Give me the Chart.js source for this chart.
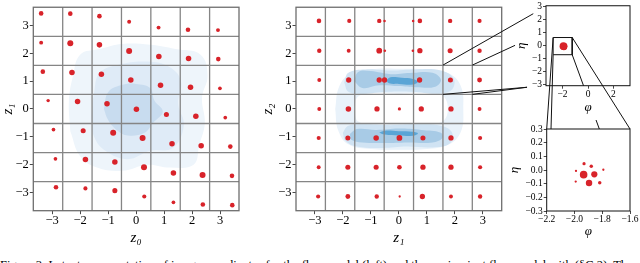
<!DOCTYPE html>
<html><head><meta charset="utf-8">
<script src="https://cdn.jsdelivr.net/npm/chart.js@4.4.0/dist/chart.umd.min.js"></script>
<style>
html,body{margin:0;padding:0;background:#fff;width:640px;height:263px;overflow:hidden;position:relative}
canvas{position:absolute}
#cap{position:absolute;left:0;top:259.3px;font-family:"Liberation Serif","DejaVu Serif",serif;font-size:12.5px;line-height:1;white-space:nowrap;color:#000;width:640px;overflow:hidden}
</style></head><body>
<canvas id="cA" width="245" height="250" style="left:0;top:0"></canvas>
<canvas id="cB" width="256" height="250" style="left:250px;top:0"></canvas>
<canvas id="cC" width="135" height="118" style="left:505px;top:0"></canvas>
<canvas id="cD" width="135" height="127" style="left:505px;top:118px"></canvas>
<canvas id="ov" width="640" height="263" style="left:0;top:0;z-index:10;pointer-events:none"></canvas>
<div id="cap">Figure 3: Latent representation of image coordinates for the flow model (left) and the equivariant flow model with (§C.2). The equivariant</div>
<script>
// ---------------- data ----------------
const latentTicks = [-3,-2,-1,0,1,2,3];
const latentXLim = [-3.67, 3.67];
const latentYLim = [-3.65, 3.65];
const cellEdgesX = [-2.621,-1.573,-0.524,0.524,1.573,2.621];
const cellEdgesY = [-2.607,-1.564,-0.521,0.521,1.564,2.607];

// left panel: (z0, z1) points, row by row
const leftZ0 = [
 -3.39,-2.35,-1.31,-0.25,0.80,1.85,2.92,
 -3.39,-2.35,-1.31,-0.25,0.81,1.87,2.93,
 -3.33,-2.29,-1.24,-0.19,0.87,1.94,2.99,
 -3.14,-2.09,-1.04,0.01,1.08,2.13,3.18,
 -2.95,-1.89,-0.82,0.23,1.28,2.32,3.36,
 -2.88,-1.81,-0.76,0.28,1.33,2.37,3.42,
 -2.86,-1.81,-0.76,0.29,1.33,2.38,3.43];
const leftZ1 = [
 3.43,3.42,3.33,3.13,2.92,2.84,2.83,
 2.38,2.36,2.30,2.08,1.88,1.81,1.79,
 1.34,1.31,1.25,1.04,0.85,0.78,0.74,
 0.30,0.27,0.19,-0.01,-0.20,-0.26,-0.31,
 -0.74,-0.78,-0.85,-1.04,-1.25,-1.32,-1.35,
 -1.79,-1.81,-1.90,-2.09,-2.30,-2.37,-2.40,
 -2.81,-2.85,-2.93,-3.14,-3.35,-3.43,-3.45];
const leftMass = [
 2.0,2.0,2.0,1.7,1.7,2.0,1.7,
 1.7,2.6,2.4,2.6,2.4,2.4,2.0,
 2.0,2.4,2.4,2.4,2.4,2.4,1.6,
 1.5,2.4,2.4,2.4,2.2,2.4,1.6,
 1.6,2.2,2.6,2.6,2.4,2.4,2.0,
 1.6,2.4,2.4,2.6,2.4,2.6,2.0,
 2.0,1.8,2.2,1.8,1.6,2.0,2.0];
// left panel density levels (outer -> inner)
const leftDensity1 = [[-2.35,-0.8],[-2.4,0.3],[-2.25,1.2],[-2.0,1.95],[-1.3,2.15],[-0.5,2.33],[0.5,2.3],[1.4,2.15],[2.3,1.95],[2.55,1.2],[2.35,0.4],[2.45,-0.5],[2.25,-1.3],[2.05,-2.0],[1.2,-2.1],[0.4,-2.0],[-0.5,-2.22],[-1.4,-2.1],[-2.0,-1.7]];
const leftDensity2 = [[-1.6,-0.3],[-1.5,0.6],[-1.3,1.3],[-0.6,1.6],[0.4,1.7],[1.2,1.5],[1.6,1.0],[1.5,0.2],[1.7,-0.6],[1.3,-1.4],[0.5,-1.5],[-0.3,-1.8],[-1.1,-1.5],[-1.5,-1.0]];
const leftDensity3 = [[-1.15,0.0],[-1.0,0.6],[-0.55,0.85],[0.0,0.9],[0.5,0.75],[0.65,0.3],[0.95,-0.1],[0.6,-0.5],[0.3,-0.85],[-0.3,-0.95],[-0.7,-0.75],[-1.0,-0.4]];

// middle panel: (z1, z2) points
const midZ1 = [
 -2.85,-1.77,-0.70,-0.51,0.51,0.75,1.83,2.88,
 -2.84,-1.79,-0.70,-0.50,0.50,0.75,1.83,2.88,
 -2.84,-1.79,-0.70,-0.51,0.74,1.84,2.88,
 -2.84,-1.80,-0.78,0.02,0.80,1.86,2.88,
 -2.86,-1.82,-0.81,0.02,0.86,1.86,2.90,
 -2.86,-1.82,-0.81,0.02,0.86,1.86,2.90,
 -2.88,-1.82,-0.79,0.03,0.84,1.86,2.90];
const midZ2 = [
 3.16,3.16,3.16,3.16,3.16,3.16,3.16,3.16,
 2.09,2.09,2.09,2.09,2.09,2.09,2.09,2.09,
 1.04,1.04,1.04,1.04,1.04,1.04,1.04,
 0.00,0.00,0.00,0.00,0.00,0.00,0.00,
 -1.04,-1.04,-1.04,-1.04,-1.04,-1.04,-1.04,
 -2.09,-2.09,-2.09,-2.09,-2.09,-2.09,-2.09,
 -3.14,-3.14,-3.14,-3.14,-3.14,-3.14,-3.14];
const midMass = [
 2.0,1.8,1.9,1.1,1.1,2.0,1.9,1.8,
 1.9,1.7,2.5,1.1,1.1,2.3,2.2,1.9,
 1.7,2.3,2.3,2.3,2.3,2.2,2.1,
 1.7,2.4,2.3,1.4,2.3,2.3,1.7,
 1.8,2.2,2.4,2.5,2.2,2.3,1.8,
 1.7,2.2,2.2,2.0,2.3,2.3,1.8,
 1.8,2.1,1.9,1.0,2.3,1.7,1.9];
// middle panel density (ring with two bands)
const ringOuter = [[-2.27,0],[-2.15,0.75],[-1.8,1.22],[-1.0,1.42],[0,1.44],[1.0,1.42],[1.8,1.27],[2.22,0.8],[2.3,0],[2.22,-0.8],[1.8,-1.27],[1.0,-1.44],[0,-1.46],[-1.0,-1.44],[-1.8,-1.27],[-2.17,-0.75]];
const ringHole = [[-1.6,0],[-1.45,0.45],[-0.8,0.58],[0,0.55],[0.8,0.58],[1.55,0.48],[1.75,0],[1.55,-0.45],[0.8,-0.55],[0,-0.52],[-0.8,-0.55],[-1.45,-0.45]];
const bandTopLight = [[-1.95,0.95],[-1.8,1.3],[-1.2,1.42],[-0.3,1.38],[0.6,1.42],[1.5,1.38],[1.95,1.1],[1.9,0.7],[1.4,0.55],[0.5,0.62],[-0.4,0.62],[-1.3,0.55],[-1.8,0.62]];
const bandBotLight = [[-2.0,-0.85],[-1.8,-0.6],[-1.2,-0.55],[-0.3,-0.58],[0.6,-0.55],[1.5,-0.6],[1.9,-0.85],[1.8,-1.25],[1.2,-1.38],[0.3,-1.35],[-0.6,-1.4],[-1.5,-1.35],[-1.9,-1.15]];
const bandTopMid = [[-1.6,1.0],[-1.45,1.33],[-1.0,1.36],[-0.3,1.25],[0.5,1.3],[1.2,1.3],[1.5,1.05],[1.3,0.8],[0.6,0.78],[0,0.82],[-0.7,0.85],[-1.3,0.75]];
const bandBotMid = [[-1.75,-0.9],[-1.5,-0.72],[-0.8,-0.75],[0,-0.7],[0.8,-0.75],[1.5,-0.85],[1.55,-1.05],[1.2,-1.2],[0.3,-1.2],[-0.5,-1.22],[-1.3,-1.2],[-1.7,-1.1]];
const coreTop = [[-0.45,1.02],[-0.3,1.14],[0.1,1.12],[0.5,1.08],[0.68,0.98],[0.5,0.88],[0,0.9],[-0.35,0.92]];
const coreBot = [[-0.7,-0.85],[-0.5,-0.78],[0,-0.8],[0.5,-0.82],[0.68,-0.88],[0.5,-0.96],[0,-0.95],[-0.5,-0.92]];

// insets: (phi, eta)
const phiTicks = [-2,0,2];
const etaTicks = [-3,-2,-1,0,1,2,3];
const phiLim = [-3.3,3.3];
const etaLim = [-3.07,3.07];
const zoomPhiTicks = [-2.2,-2.0,-1.8,-1.6];
const zoomEtaTicks = [-0.3,-0.2,-0.1,0.0,0.1,0.2,0.3];
const phiVals = [-1.931,-1.879,-1.989,-1.792,-1.934,-1.857,-1.895,-1.991,-1.818];
const etaVals = [0.046,0.027,-0.007,0.002,-0.034,-0.032,-0.095,-0.085,-0.093];
const insetMass = [1.4,1.5,1.0,1.0,3.3,2.7,2.8,1.0,1.5];
const zoomBoxPhi = [-2.74,-1.24];
const zoomBoxEta = [-0.69,0.63];
// connector end points
const linkFromMid = [[1.573,1.573],[2.621,1.573],[1.573,0.524],[2.621,0.524]];
const linkToTop = [[-4.30,2.46],[-5.73,0.03],[-4.79,-3.19],[-4.79,-3.19]];
const linkToZoom = [[-2.2,0.3],[-2.169,0.3],[-1.6,0.3],[-1.821,0.3]];

// ---------------- drawing ----------------
const SERIF = '"Liberation Serif", "DejaVu Serif", serif';
const RED = '#d8232a';
const DOT_SCALE = 1.15;
const fmt = d => v => (v < -1e-9 ? '\u2212' : '') + Math.abs(v).toFixed(d);
const pts = (xs, ys) => xs.map((x, i) => ({x, y: ys[i]}));
const poly = p => p.concat([p[0]]).map(([x, y]) => ({x, y}));

function axis(o) {
  return {
    type: 'linear', min: o.lim[0], max: o.lim[1],
    afterBuildTicks: s => { s.ticks = o.ticks.map(v => ({value: v})); },
    afterFit: s => { if (o.isX) s.height = o.size; else s.width = o.size; },
    border: {display: false},
    grid: {drawOnChartArea: false, drawTicks: true, tickLength: o.tickLen, tickColor: '#1a1a1a', tickWidth: 0.8},
    ticks: {autoSkip: false, maxRotation: 0, minRotation: 0, padding: o.tickPad, color: '#000',
      font: {family: SERIF, size: o.fontSize, lineHeight: 1}, callback: fmt(o.dec)},
    title: {display: true, text: o.title, color: '#000',
      font: {family: SERIF, size: o.titleSize, style: 'italic', lineHeight: 1},
      padding: o.isX ? {top: 0, bottom: o.titlePad} : {top: o.titlePad, bottom: 0}}
  };
}
function panelPlugin(cfg) {
  return {
    id: 'panel',
    beforeDatasetDraw(chart, args) {
      if (args.index !== 0) return;
      const {ctx, chartArea: a, scales: {x, y}} = chart;
      ctx.save();
      ctx.strokeStyle = cfg.gridColor; ctx.lineWidth = cfg.gridWidth;
      ctx.beginPath();
      (cfg.xEdges || []).forEach(v => { const p = x.getPixelForValue(v); ctx.moveTo(p, a.top); ctx.lineTo(p, a.bottom); });
      (cfg.yEdges || []).forEach(v => { const p = y.getPixelForValue(v); ctx.moveTo(a.left, p); ctx.lineTo(a.right, p); });
      ctx.stroke();
      ctx.strokeStyle = cfg.frameColor; ctx.lineWidth = cfg.frameWidth;
      ctx.strokeRect(a.left, a.top, a.right - a.left, a.bottom - a.top);
      ctx.restore();
    }
  };
}
const dots = (xs, ys, mass) => ({data: pts(xs, ys), pointRadius: mass.map(m => m * DOT_SCALE), pointBackgroundColor: RED, backgroundColor: RED, pointBorderWidth: 0, borderWidth: 0});
const area = (p, color) => ({type: 'line', data: poly(p), fill: 'shape', backgroundColor: color, borderWidth: 0, borderColor: 'rgba(0,0,0,0)', pointRadius: 0, tension: 0.4});
const base = {responsive: false, animation: false, devicePixelRatio: 1, events: [],
  plugins: {legend: {display: false}, tooltip: {enabled: false}}};

const chartA = new Chart(document.getElementById('cA'), {
  type: 'scatter',
  data: {datasets: [dots(leftZ0, leftZ1, leftMass), area(leftDensity3, '#c8dcef'), area(leftDensity2, '#dfebf7'), area(leftDensity1, '#eef5fb')]},
  options: Object.assign({}, base, {
    layout: {padding: {left: 0, top: 1.7, right: 6, bottom: 0}},
    scales: {
      x: axis({lim: latentXLim, ticks: latentTicks, isX: true, size: 39.3, tickLen: 3.5, tickPad: 0.5, fontSize: 12.5, dec: 0, title: 'z\u2080', titleSize: 15, titlePad: 4}),
      y: axis({lim: latentYLim, ticks: latentTicks, isX: false, size: 33.3, tickLen: 3.5, tickPad: 1, fontSize: 12.5, dec: 0, title: 'z\u2081', titleSize: 15, titlePad: 0.5})
    }
  }),
  plugins: [panelPlugin({xEdges: cellEdgesX, yEdges: cellEdgesY, gridColor: '#858585', gridWidth: 1.3, frameColor: '#6e6e6e', frameWidth: 1.3})]
});

const chartB = new Chart(document.getElementById('cB'), {
  type: 'scatter',
  data: {datasets: [dots(midZ1, midZ2, midMass),
    area(coreBot, '#5aa5d6'), area(coreTop, '#5aa5d6'),
    area(bandBotMid, '#a8cbe6'), area(bandTopMid, '#a8cbe6'),
    area(bandBotLight, '#d0e3f3'), area(bandTopLight, '#d0e3f3'),
    area(ringHole, '#ffffff'), area(ringOuter, '#e9f2fa')]},
  options: Object.assign({}, base, {
    layout: {padding: {left: 0, top: 1.7, right: 4.3, bottom: 0}},
    scales: {
      x: axis({lim: latentXLim, ticks: latentTicks, isX: true, size: 39.3, tickLen: 3.5, tickPad: 0.5, fontSize: 12.5, dec: 0, title: 'z\u2081', titleSize: 15, titlePad: 4}),
      y: axis({lim: latentYLim, ticks: latentTicks, isX: false, size: 46, tickLen: 3.5, tickPad: 1, fontSize: 12.5, dec: 0, title: 'z\u2082', titleSize: 15, titlePad: 10.5})
    }
  }),
  plugins: [panelPlugin({xEdges: cellEdgesX, yEdges: cellEdgesY, gridColor: '#858585', gridWidth: 1.3, frameColor: '#6e6e6e', frameWidth: 1.3})]
});

const boxPoly = [[zoomBoxPhi[0], zoomBoxEta[1]], [zoomBoxPhi[1], zoomBoxEta[1]], [zoomBoxPhi[1], zoomBoxEta[0]], [zoomBoxPhi[0], zoomBoxEta[0]]];
const chartC = new Chart(document.getElementById('cC'), {
  type: 'scatter',
  data: {datasets: [dots(phiVals, etaVals, insetMass),
    {type: 'line', data: poly(boxPoly), fill: false, borderColor: '#111', borderWidth: 1, pointRadius: 0, tension: 0}]},
  options: Object.assign({}, base, {
    layout: {padding: {left: 0, top: 1.7, right: 10, bottom: 0}},
    scales: {
      x: axis({lim: phiLim, ticks: phiTicks, isX: true, size: 32.3, tickLen: 3, tickPad: 1, fontSize: 9.5, dec: 0, title: '\u03c6', titleSize: 13, titlePad: 3.5}),
      y: axis({lim: etaLim, ticks: etaTicks, isX: false, size: 41, tickLen: 3, tickPad: 1, fontSize: 9.5, dec: 0, title: '\u03b7', titleSize: 13, titlePad: 10.2})
    }
  }),
  plugins: [panelPlugin({gridColor: '#000', gridWidth: 0, frameColor: '#111', frameWidth: 1})]
});

const chartD = new Chart(document.getElementById('cD'), {
  type: 'scatter',
  data: {datasets: [dots(phiVals, etaVals, insetMass)]},
  options: Object.assign({}, base, {
    layout: {padding: {left: 0, top: 11, right: 10, bottom: 0}},
    scales: {
      x: axis({lim: [zoomPhiTicks[0], zoomPhiTicks[zoomPhiTicks.length - 1]], ticks: zoomPhiTicks, isX: true, size: 34, tickLen: 3, tickPad: 0.8, fontSize: 9.5, dec: 1, title: '\u03c6', titleSize: 13, titlePad: 6.8}),
      y: axis({lim: [zoomEtaTicks[0], zoomEtaTicks[zoomEtaTicks.length - 1]], ticks: zoomEtaTicks, isX: false, size: 41.7, tickLen: 3, tickPad: 1, fontSize: 9.5, dec: 1, title: '\u03b7', titleSize: 13, titlePad: 3.5})
    }
  }),
  plugins: [panelPlugin({gridColor: '#000', gridWidth: 0, frameColor: '#111', frameWidth: 1})]
});

// connectors on overlay
function pageXY(chart, canvasId, x, y) {
  const c = document.getElementById(canvasId);
  return [c.offsetLeft + chart.scales.x.getPixelForValue(x), c.offsetTop + chart.scales.y.getPixelForValue(y)];
}
const ov = document.getElementById('ov').getContext('2d');
ov.strokeStyle = '#111'; ov.lineWidth = 1;
function seg(p, q) { ov.beginPath(); ov.moveTo(p[0], p[1]); ov.lineTo(q[0], q[1]); ov.stroke(); }
linkFromMid.forEach((f, i) => {
  seg(pageXY(chartB, 'cB', f[0], f[1]), pageXY(chartC, 'cC', linkToTop[i][0], linkToTop[i][1]));
});
const boxCorners = [[zoomBoxPhi[0], zoomBoxEta[1]], [zoomBoxPhi[0], zoomBoxEta[0]], [zoomBoxPhi[1], zoomBoxEta[1]], [zoomBoxPhi[1], zoomBoxEta[0]]];
const topBottom = document.getElementById('cC').offsetTop + chartC.chartArea.bottom;
const zoomTop = document.getElementById('cD').offsetTop + chartD.chartArea.top;
boxCorners.forEach((b, i) => {
  const p = pageXY(chartC, 'cC', b[0], b[1]);
  const q = pageXY(chartD, 'cD', linkToZoom[i][0], linkToZoom[i][1]);
  if (i === 3) {
    const at = yy => [p[0] + (q[0] - p[0]) * (yy - p[1]) / (q[1] - p[1]), yy];
    seg(p, at(topBottom));
    seg(at(zoomTop - 9), q);
  } else {
    seg(p, q);
  }
});
</script>
</body></html>
